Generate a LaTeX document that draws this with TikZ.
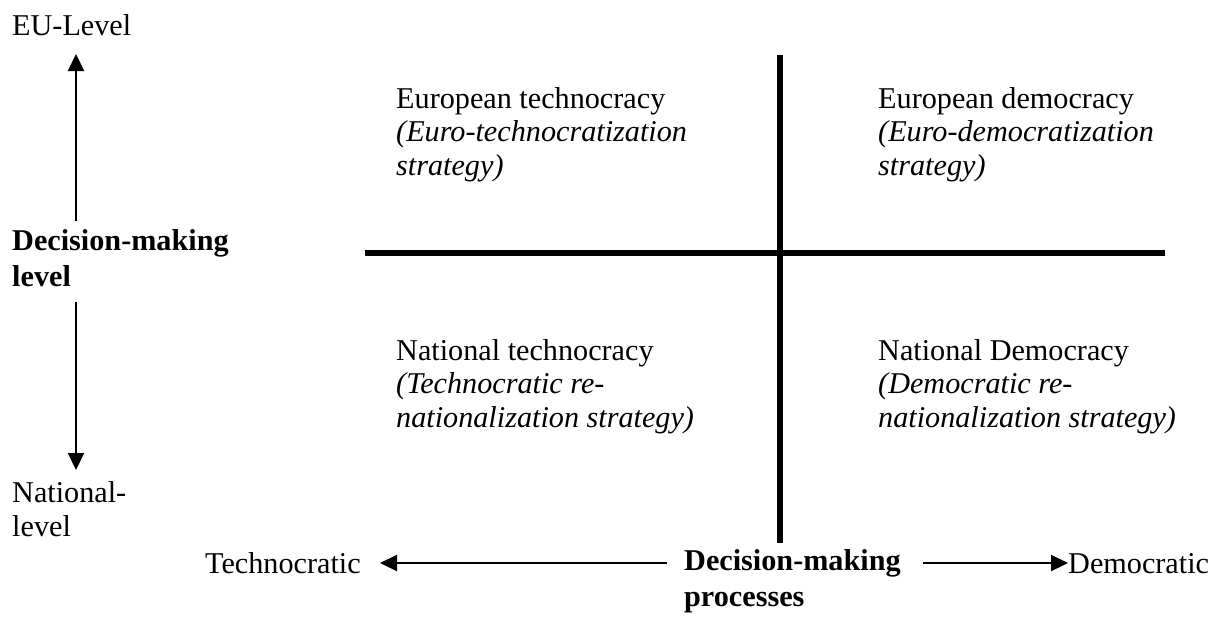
\documentclass[tikz,border=0pt]{standalone}
\usepackage{fontspec}
\setmainfont{Liberation Serif}
\usetikzlibrary{arrows.meta}
\begin{document}
\begin{tikzpicture}[x=1pt,y=-1pt,
  lbl/.style={anchor=base west, inner sep=0pt, align=left, font=\fontsize{30.2}{33.5}\selectfont},
  blbl/.style={anchor=base west, inner sep=0pt, align=left, font=\fontsize{30.2}{36}\selectfont\bfseries},
  axisarrow/.style={line width=2.2pt, -{Triangle[length=17pt,width=16pt]}},
  divider/.style={line width=5.5pt}]
\useasboundingbox (0,0) rectangle (1219,619);
% axis labels (anchor = baseline of last line)
\node[lbl] (eu) at (12,35) {EU-Level};
\node[blbl] (dml) at (12,286) {Decision-making\\level};
\node[lbl] (nat) at (12,536) {National-\\level};
\node[lbl] (tech) at (205,573) {Technocratic};
\node[blbl] (dmp) at (684,606) {Decision-making\\processes};
\node[lbl] (dem) at (1068,573) {Democratic};
% quadrant texts
\node[lbl] (et) at (396,175) {European technocracy\\\textit{(Euro-technocratization}\\\textit{strategy)}};
\node[lbl] (ed) at (878,175) {European democracy\\\textit{(Euro-democratization}\\\textit{strategy)}};
\node[lbl] (nt) at (396,427) {National technocracy\\\textit{(Technocratic re-}\\\textit{nationalization strategy)}};
\node[lbl] (nd) at (878,427) {National Democracy\\\textit{(Democratic re-}\\\textit{nationalization strategy)}};
% arrow coordinates
\coordinate (upS) at (76,221);
\coordinate (upE) at (76,54);
\coordinate (dnS) at (76,302);
\coordinate (dnE) at (76,470);
\coordinate (lfS) at (667,563);
\coordinate (lfE) at (380,563);
\coordinate (rtS) at (923,563);
\coordinate (rtE) at (1068,563);
\draw[axisarrow] (upS) -- (upE);
\draw[axisarrow] (dnS) -- (dnE);
\draw[axisarrow] (lfS) -- (lfE);
\draw[axisarrow] (rtS) -- (rtE);
% dividers
\coordinate (vT) at (780,55);
\coordinate (vB) at (780,543);
\coordinate (hL) at (365,253);
\coordinate (hR) at (1165,253);
\draw[divider] (vT) -- (vB);
\draw[divider] (hL) -- (hR);
\end{tikzpicture}
\end{document}
